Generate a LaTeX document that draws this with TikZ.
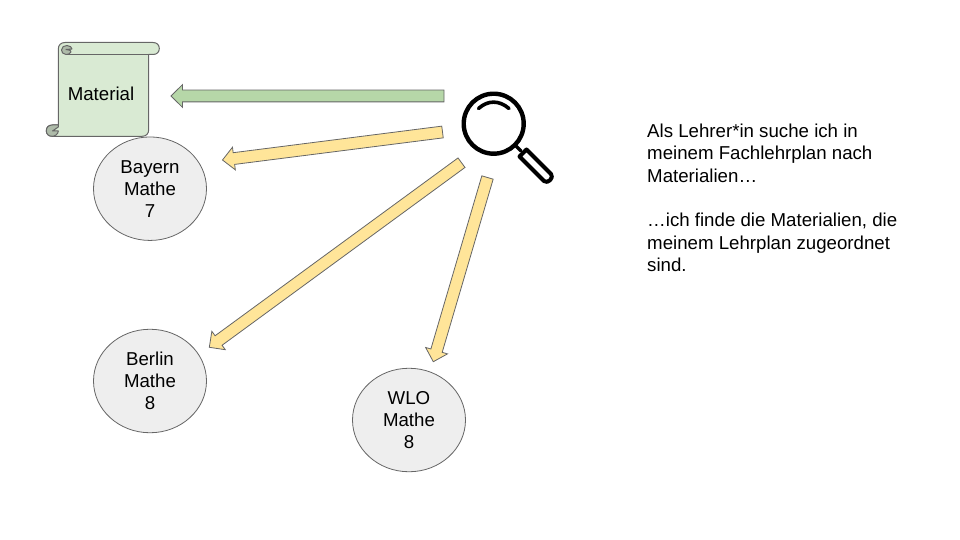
\documentclass[tikz,border=0pt]{standalone}
\usepackage{fontspec}
\setmainfont{Liberation Sans}
\usetikzlibrary{calc,shapes.geometric}
\definecolor{edge}{HTML}{666666}
\definecolor{paper}{HTML}{D9EAD3}
\definecolor{paperdark}{HTML}{AEBBA9}
\definecolor{greenarrow}{HTML}{B6D7A8}
\definecolor{yellowarrow}{HTML}{FFE599}
\definecolor{circlefill}{HTML}{EEEEEE}
\tikzset{
  planet/.style={ellipse,draw=edge,fill=circlefill,line width=0.8pt,minimum width=113pt,minimum height=103.5pt,inner sep=0pt,align=center,font=\fontsize{18.67}{22}\selectfont},
  arrowbody/.style={draw=edge,line width=0.8pt,line join=miter},
  lens/.style={draw=black,line width=4.4pt,line cap=round,line join=round},
  scrollline/.style={draw=edge,line width=1pt,line join=round}
}
\newcommand{\blockarrow}[3]{%
  \path ($(#3)!11.5pt!(#2)$) coordinate (hb);
  \draw[arrowbody,fill=#1]
    ($(#2)!5.9pt!90:(#3)$) -- ($(hb)!5.9pt!90:(#3)$) -- ($(hb)!11.4pt!90:(#3)$) -- (#3)
    -- ($(hb)!11.4pt!-90:(#3)$) -- ($(hb)!5.9pt!-90:(#3)$) -- ($(#2)!5.9pt!-90:(#3)$) -- cycle;
}
\begin{document}
\begin{tikzpicture}[x=1pt,y=-1pt]
\useasboundingbox (0,0) rectangle (960,540);
% circles
\node[planet] (bayern) at (150,188.7) {Bayern\\Mathe\\7};
\node[planet] (berlin) at (150,381) {Berlin\\Mathe\\8};
\node[planet] (wlo) at (409,420) {WLO\\Mathe\\8};
% scroll
\draw[scrollline,fill=paper]
  (58.3,49) .. controls (58.3,45) and (61,42.5) .. (65,42.5)
  -- (153,42.5) .. controls (157,42.5) and (159.3,45) .. (159.3,48.5)
  .. controls (159.3,52) and (157,54.5) .. (153,54.5)
  -- (148.7,54.5) -- (148.7,129.5) .. controls (148.7,134) and (146,136.3) .. (142,136.3)
  -- (52.3,136.3) .. controls (48.5,136.3) and (46.3,134) .. (46.3,130.7)
  .. controls (46.3,127.5) and (48.5,125) .. (52.3,125)
  -- (58.3,125) -- cycle;
\draw[scrollline,fill=paperdark]
  (66,54.5) .. controls (63,54.5) and (61.5,52) .. (61.5,50)
  .. controls (61.5,47) and (64,45.5) .. (67,45.5)
  .. controls (70,45.5) and (72,47.5) .. (72,49) -- (66,49.5)
  .. controls (70,50) and (72,51) .. (71,52) .. controls (70,54) and (68,54.5) .. (66,54.5);
\draw[scrollline] (66,54.5) -- (148.7,54.5);
\draw[scrollline,fill=paperdark]
  (58.3,125) -- (52.3,125) .. controls (48.5,125) and (46.3,127.5) .. (46.3,130.7)
  .. controls (46.3,134) and (48.5,136.3) .. (52.3,136.3)
  .. controls (55,136.3) and (58.3,134) .. (58.3,131) -- (52.5,131) -- (58.3,127) -- cycle;
\node[font=\fontsize{18.67}{22}\selectfont,inner sep=0pt] (material) at (101,93.5) {Material};
% magnifier
\coordinate (lensc) at (493.7,123.7);
\draw[lens] (lensc) circle[radius=30];
\draw[lens,line width=3.6pt] (478.5,108.5) .. controls (488,100) and (499,100) .. (509,108.5);
\draw[lens,line width=3.4pt] (516,146) -- (521,151);
\draw[lens,line width=4pt] (519.5,156.5) -- (526.5,149.5) -- (551,174)
  .. controls (554.5,177.5) and (547.5,184.5) .. (544,181) -- cycle;
% arrows
\coordinate (g1) at (444,96);   \coordinate (g2) at (171,96);
\coordinate (a1) at (442.5,132);\coordinate (a2) at (222.5,160);
\coordinate (b1) at (461.5,162.7);\coordinate (b2) at (209.3,347.3);
\coordinate (c1) at (487.5,177.5);\coordinate (c2) at (433.3,361.7);
\blockarrow{greenarrow}{g1}{g2}
\blockarrow{yellowarrow}{a1}{a2}
\blockarrow{yellowarrow}{b1}{b2}
\blockarrow{yellowarrow}{c1}{c2}
% text
\node[anchor=north west,inner sep=0pt,align=left,font=\fontsize{18.67}{22.4}\selectfont] (caption) at (647,123.5)
 {Als Lehrer*in suche ich in\\meinem Fachlehrplan nach\\Materialien…\\[22.4pt]…ich finde die Materialien, die\\meinem Lehrplan zugeordnet\\sind.};
\end{tikzpicture}
\end{document}
